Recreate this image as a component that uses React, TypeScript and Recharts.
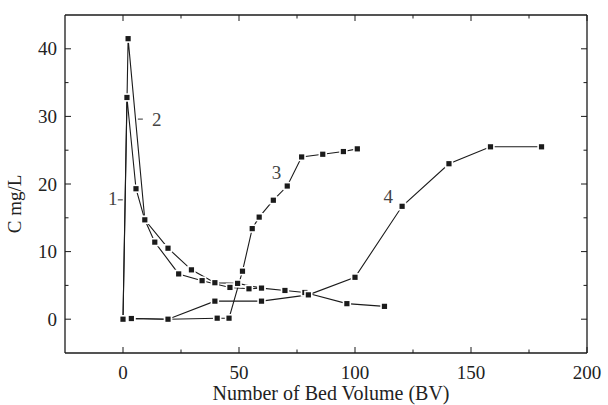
import React from 'react';
import { LineChart, Line, XAxis, YAxis, ReferenceDot } from 'recharts';

const curve1X = [0, 1.7, 5.6, 9.4, 13.7, 24.0, 34.1, 46.1, 54.3, 59.7];
const curve1Y = [0, 32.8, 19.3, 14.7, 11.4, 6.7, 5.7, 4.7, 4.5, 4.6];
const curve2X = [0, 2.2, 9.4, 19.4, 29.5, 39.6, 49.4, 59.7, 69.8, 78.4, 96.5, 112.7];
const curve2Y = [0, 41.5, 14.7, 10.5, 7.3, 5.4, 5.3, 4.6, 4.25, 3.95, 2.3, 1.9];
const curve3X = [0, 3.6, 19.4, 40.6, 45.7, 51.5, 55.7, 58.7, 64.8, 70.8, 77, 86.1, 95, 101];
const curve3Y = [0, 0.1, 0, 0.15, 0.15, 7.1, 13.4, 15.1, 17.6, 19.7, 24, 24.4, 24.8, 25.2];
const curve4X = [0, 3.6, 19.4, 39.6, 59.7, 79.9, 100, 120.3, 140.5, 158.4, 180.4];
const curve4Y = [0, 0.1, 0, 2.67, 2.67, 3.6, 6.2, 16.7, 23, 25.5, 25.5];

const xTicks = [0, 25, 50, 75, 100, 125, 150, 175, 200];
const yTicks = [0, 5, 10, 15, 20, 25, 30, 35, 40];
const xDomain: [number, number] = [-25, 200];
const yDomain: [number, number] = [-5, 45];

const curveLabels = [
  { text: '1', x: -4.4, y: 17.8, dash: 'after' },
  { text: '2', x: 14.6, y: 29.6, dash: 'before' },
  { text: '3', x: 66.2, y: 21.7, dash: 'none' },
  { text: '4', x: 114.3, y: 18.1, dash: 'none' },
];

const FONT = '"Liberation Serif", "Times New Roman", serif';
const INK = '#1b1b1b';

const toPoints = (xs: number[], ys: number[]) => xs.map((x, i) => ({ x, y: ys[i] }));

const SquareDot = (props: any) => {
  const { cx, cy } = props;
  if (cx == null || cy == null) return <g />;
  return (
    <g>
      <rect x={cx - 4.2} y={cy - 4.2} width={8.4} height={8.4} fill="#fff" />
      <rect x={cx - 2.6} y={cy - 2.6} width={5.2} height={5.2} fill={INK} />
    </g>
  );
};

const BottomTick = (props: any) => {
  const { x, y, payload } = props;
  const major = payload.value % 50 === 0;
  return (
    <g>
      <line x1={x} x2={x} y1={y} y2={y - (major ? 6 : 3.5)} stroke={INK} strokeWidth={1} />
      {major && (
        <text x={x} y={y + 26} textAnchor="middle" fontFamily={FONT} fontSize={19} fill="#222">
          {payload.value}
        </text>
      )}
    </g>
  );
};

const TopTick = (props: any) => {
  const { x, y, payload } = props;
  const major = payload.value % 50 === 0;
  return <line x1={x} x2={x} y1={y} y2={y + (major ? 6 : 3.5)} stroke={INK} strokeWidth={1} />;
};

const LeftTick = (props: any) => {
  const { x, y, payload } = props;
  const major = payload.value % 10 === 0;
  return (
    <g>
      <line x1={x} x2={x + (major ? 6 : 3.5)} y1={y} y2={y} stroke={INK} strokeWidth={1} />
      {major && (
        <text x={x - 8} y={y + 6.5} textAnchor="end" fontFamily={FONT} fontSize={19} fill="#222">
          {payload.value}
        </text>
      )}
    </g>
  );
};

const RightTick = (props: any) => {
  const { x, y, payload } = props;
  const major = payload.value % 10 === 0;
  return <line x1={x} x2={x - (major ? 6 : 3.5)} y1={y} y2={y} stroke={INK} strokeWidth={1} />;
};

const makeLabelShape = (text: string, dash: string) => (props: any) => {
  const { cx, cy } = props;
  return (
    <g>
      {dash === 'after' && <line x1={cx + 5} x2={cx + 10} y1={cy + 1} y2={cy + 1} stroke="#333" strokeWidth={1} />}
      {dash === 'before' && <line x1={cx - 19} x2={cx - 14} y1={cy} y2={cy} stroke="#333" strokeWidth={1} />}
      <text x={cx} y={cy + 6.5} textAnchor="middle" fontFamily={FONT} fontSize={19} fill="#444">
        {text}
      </text>
    </g>
  );
};

const series = [
  toPoints(curve1X, curve1Y),
  toPoints(curve2X, curve2Y),
  toPoints(curve3X, curve3Y),
  toPoints(curve4X, curve4Y),
];

export default function App() {
  return (
    <div style={{ position: 'absolute', left: 0, top: 0, width: 608, height: 405, background: '#fff' }}>
      <LineChart width={608} height={405} margin={{ top: 14, right: 20, bottom: 0, left: 0 }}>
        <XAxis
          xAxisId="b"
          type="number"
          dataKey="x"
          domain={xDomain}
          ticks={xTicks}
          interval={0}
          allowDataOverflow
          height={52}
          tickSize={0}
          tickMargin={0}
          tickLine={false}
          axisLine={{ stroke: INK, strokeWidth: 1.3 }}
          tick={BottomTick}
          label={{
            content: (p: any) => {
              const vb = p.viewBox;
              return (
                <text x={331} y={vb.y + 47} textAnchor="middle" fontFamily={FONT} fontSize={20} fill="#222">
                  Number of Bed Volume (BV)
                </text>
              );
            },
          }}
        />
        <XAxis
          xAxisId="t"
          orientation="top"
          type="number"
          dataKey="x"
          domain={xDomain}
          ticks={xTicks}
          interval={0}
          allowDataOverflow
          height={1}
          tickSize={0}
          tickMargin={0}
          tickLine={false}
          axisLine={{ stroke: INK, strokeWidth: 1.3 }}
          tick={TopTick}
        />
        <YAxis
          yAxisId="l"
          type="number"
          domain={yDomain}
          ticks={yTicks}
          interval={0}
          allowDataOverflow
          width={65}
          tickSize={0}
          tickMargin={0}
          tickLine={false}
          axisLine={{ stroke: INK, strokeWidth: 1.3 }}
          tick={LeftTick}
          label={{
            content: () => (
              <text
                x={21}
                y={204}
                transform="rotate(-90 21 204)"
                textAnchor="middle"
                fontFamily={FONT}
                fontSize={19}
                fill="#222"
              >
                C mg/L
              </text>
            ),
          }}
        />
        <YAxis
          yAxisId="r"
          orientation="right"
          type="number"
          domain={yDomain}
          ticks={yTicks}
          interval={0}
          allowDataOverflow
          width={1}
          tickSize={0}
          tickMargin={0}
          tickLine={false}
          axisLine={{ stroke: INK, strokeWidth: 1.3 }}
          tick={RightTick}
        />
        {series.map((data, i) => (
          <Line
            key={i}
            xAxisId="b"
            yAxisId="l"
            data={data}
            dataKey="y"
            type="linear"
            stroke={INK}
            strokeWidth={1.1}
            dot={SquareDot}
            activeDot={false}
            isAnimationActive={false}
          />
        ))}
        {curveLabels.map((l, i) => (
          <ReferenceDot
            key={'lab' + i}
            xAxisId="b"
            yAxisId="l"
            x={l.x}
            y={l.y}
            r={0}
            ifOverflow="visible"
            shape={makeLabelShape(l.text, l.dash)}
          />
        ))}
      </LineChart>
    </div>
  );
}
